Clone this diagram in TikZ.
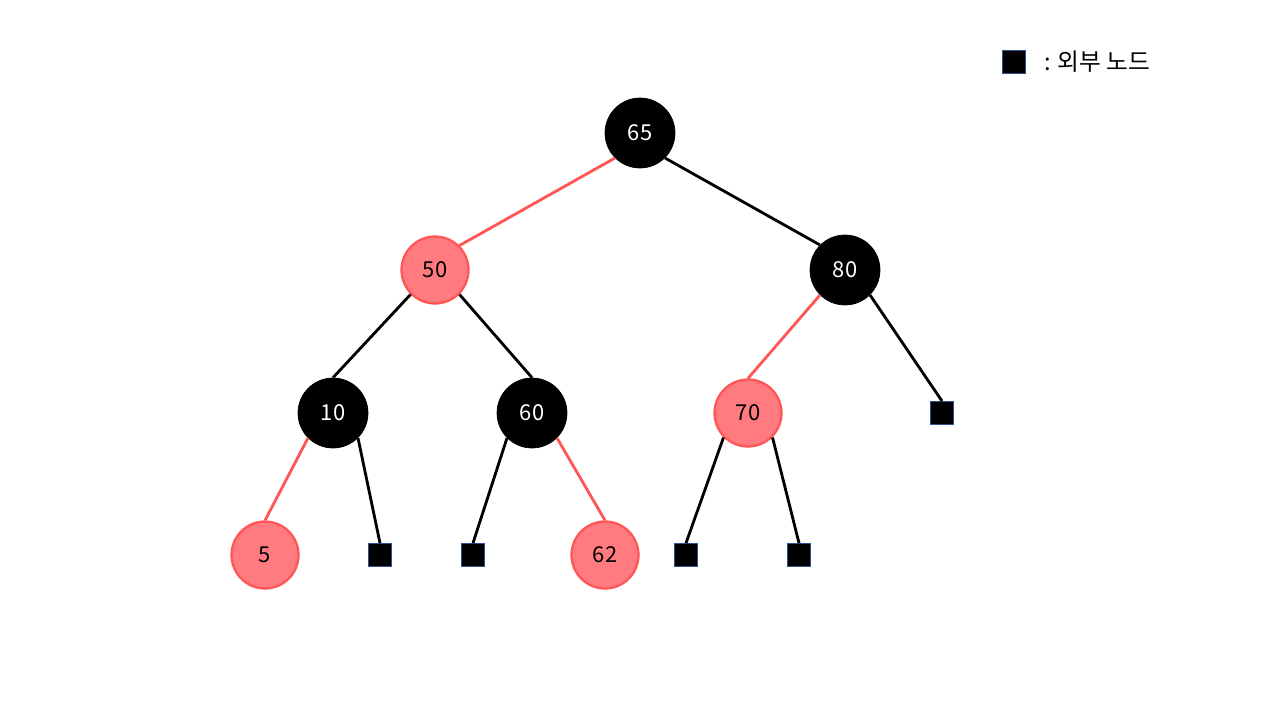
\documentclass[tikz,border=0pt]{standalone}
\usepackage{fontspec}
\setmainfont{Noto Sans CJK KR}
\definecolor{rbred}{HTML}{FF5555}
\definecolor{rbfill}{HTML}{FF7B7F}
\definecolor{extborder}{HTML}{2F4F8F}
\tikzset{
    blacknode/.style={circle, fill=black, draw=black, minimum size=1.4cm, inner sep=0pt, text=white, font=\fontsize{12.5}{14}\selectfont},
    rednode/.style={circle, fill=rbfill, draw=rbred, line width=1.3pt, minimum size=1.34cm, inner sep=0pt, text=black, font=\fontsize{12.5}{14}\selectfont},
    extnode/.style={rectangle, fill=black, draw=extborder, line width=0.5pt, minimum size=0.46cm, inner sep=0pt},
    blackedge/.style={draw=black, line width=1.6pt},
    rededge/.style={draw=rbred, line width=1.6pt}
}
\begin{document}
\begin{tikzpicture}[x=0.02cm, y=-0.02cm]
    \useasboundingbox (0,0) rectangle (1280,720);

    % 내부 노드
    \node[blacknode] (n65) at (640,133) {65};
    \node[rednode]   (n50) at (435,270) {50};
    \node[blacknode] (n80) at (845,270) {80};
    \node[blacknode] (n10) at (333,413) {10};
    \node[blacknode] (n60) at (532,413) {60};
    \node[rednode]   (n70) at (748,413) {70};
    \node[rednode]   (n5)  at (265,555) {5};
    \node[rednode]   (n62) at (605,555) {62};

    % 외부 노드
    \node[extnode] (e80) at (942,413) {};
    \node[extnode] (e10) at (380,555) {};
    \node[extnode] (e60) at (473,555) {};
    \node[extnode] (e70a) at (686,555) {};
    \node[extnode] (e70b) at (799,555) {};

    % 간선
    \draw[rededge]   (n65.south west) -- (n50.north east);
    \draw[blackedge] (n65.south east) -- (n80.north west);
    \draw[blackedge] (n50.south west) -- (n10.north);
    \draw[blackedge] (n50.south east) -- (n60.north);
    \draw[rededge]   (n80.south west) -- (n70.north);
    \draw[blackedge] (n80.south east) -- (e80.north);
    \draw[rededge]   (n10.south west) -- (n5.north);
    \draw[blackedge] (n10.south east) -- (e10.north);
    \draw[blackedge] (n60.south west) -- (e60.north);
    \draw[rededge]   (n60.south east) -- (n62.north);
    \draw[blackedge] (n70.south west) -- (e70a.north);
    \draw[blackedge] (n70.south east) -- (e70b.north);

    % 범례
    \node[extnode] (legbox) at (1014,62) {};
    \node[anchor=west, font=\fontsize{13.5}{16}\selectfont] (legtext) at (1038,62) {: 외부 노드};
\end{tikzpicture}
\end{document}
